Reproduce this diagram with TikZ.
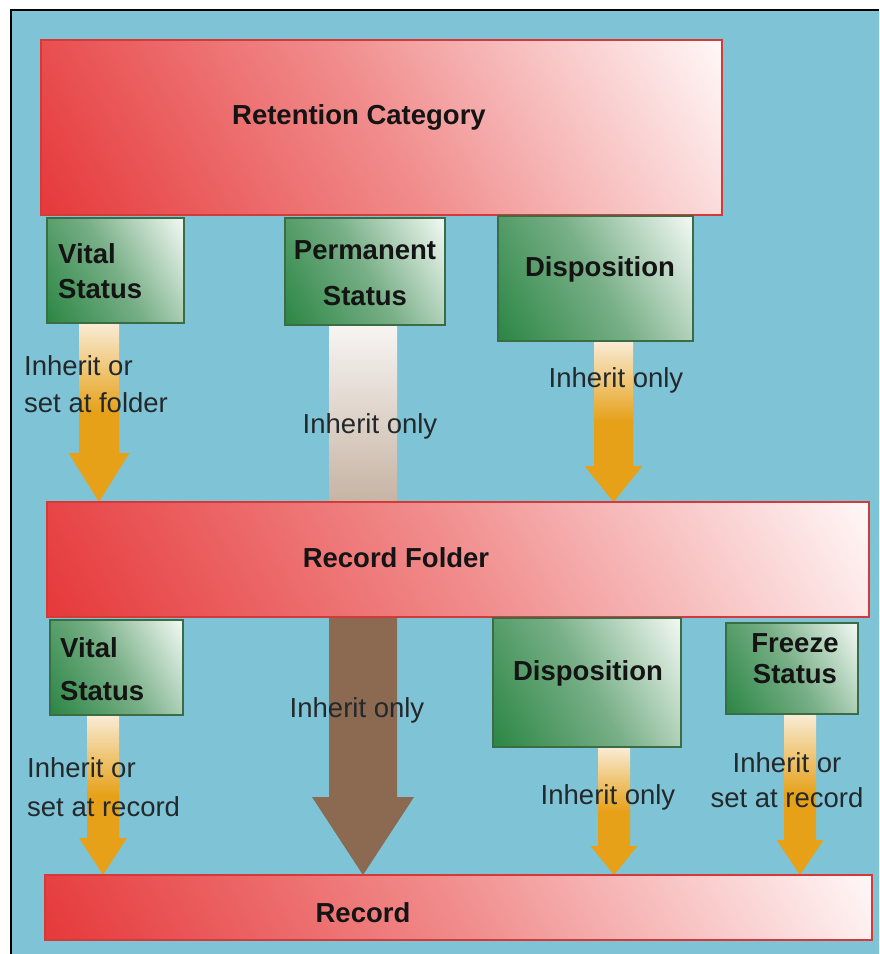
\documentclass[tikz,border=0pt]{standalone}
\usepackage{fontspec}
\setmainfont{Liberation Sans}
\usetikzlibrary{calc}
\definecolor{PageBlue}{HTML}{7FC4D6}
\definecolor{BoxRed}{HTML}{E6393B}
\definecolor{BoxRedMid}{HTML}{F18D8D}
\definecolor{BoxRedTop}{HTML}{FFF7F7}
\definecolor{BoxRedEdge}{HTML}{D33B3B}
\definecolor{BoxGreen}{HTML}{2B8644}
\definecolor{BoxGreenMid}{HTML}{78AF87}
\definecolor{BoxGreenTop}{HTML}{F3F9F4}
\definecolor{BoxGreenEdge}{HTML}{3C6C44}
\definecolor{FlowOrange}{HTML}{E6A119}
\definecolor{FlowPale}{HTML}{F9ECD6}
\definecolor{FlowBrown}{HTML}{8B6A51}
\definecolor{FlowTan}{HTML}{C7B4A4}
\definecolor{FlowWhite}{HTML}{F7F5F3}
\definecolor{InkGrey}{HTML}{23282B}
% fades used with shading angle=120 (corners reach 15.85bp and 84.15bp)
\pgfdeclareverticalshading{redfade}{100bp}{color(0bp)=(BoxRedTop); color(15.85bp)=(BoxRedTop);
 color(50bp)=(BoxRedMid); color(84.15bp)=(BoxRed); color(100bp)=(BoxRed)}
\pgfdeclareverticalshading{greenfade}{100bp}{color(0bp)=(BoxGreenTop); color(15.85bp)=(BoxGreenTop);
 color(50bp)=(BoxGreenMid); color(84.15bp)=(BoxGreen); color(100bp)=(BoxGreen)}
% long arrow, mostly hidden behind the folder between 59bp and 48bp
\pgfdeclareverticalshading{brownfade}{100bp}{color(0bp)=(FlowBrown); color(48.5bp)=(FlowBrown);
 color(59bp)=(FlowTan); color(75bp)=(FlowWhite); color(100bp)=(FlowWhite)}
\pgfdeclarelayer{back}
\pgfsetlayers{back,main}
\tikzset{redbox/.style={draw=BoxRedEdge,line width=1.2pt,inner sep=0pt,outer sep=0pt,
 shade,shading=redfade,shading angle=120},
 greenbox/.style={draw=BoxGreenEdge,line width=1.3pt,inner sep=0pt,outer sep=0pt,
 shade,shading=greenfade,shading angle=120},
 title/.style={font=\fontsize{27.5}{33}\selectfont\bfseries,text=black!92,inner sep=0pt},
 note/.style={font=\fontsize{27.5}{33}\selectfont,text=InkGrey,inner sep=0pt},
 orangeflow/.style={top color=FlowPale,bottom color=FlowOrange,middle color=FlowOrange},
 brownflow/.style={shade,shading=brownfade}}
% block arrow: [style]{x}{shaft half}{head half}{head length}{from}{to}
\newcommand\flowarrow[7][]{%
 \path[#1] let \p1=(#6.south),\p2=(#7.north) in
 (#2pt-#3pt,\y1)--(#2pt+#3pt,\y1)--(#2pt+#3pt,\y2+#5pt)--(#2pt+#4pt,\y2+#5pt)
 --(#2pt,\y2)--(#2pt-#4pt,\y2+#5pt)--(#2pt-#3pt,\y2+#5pt)--cycle;}

\begin{document}
\begin{tikzpicture}[x=1pt,y=-1pt]
\useasboundingbox (0,0) rectangle (879,954);
\begin{pgfonlayer}{back}
\fill[white] (0,0) rectangle (879,954);
\fill[PageBlue] (11,10) rectangle (879,954);
\draw[black,line width=2pt] (11,954)--(11,10)--(879,10);
\end{pgfonlayer}

% category and its settings
\node[redbox,minimum width=681pt,minimum height=175pt] (rc) at (381.5,127.5) {};
\node[greenbox,minimum width=137pt,minimum height=105pt] (vs1) at (115.5,270.5) {};
\node[greenbox,minimum width=160pt,minimum height=107pt] (ps) at (365,271.5) {};
\node[greenbox,minimum width=195pt,minimum height=125pt] (ds1) at (595.5,278.5) {};
% folder and its settings
\node[redbox,minimum width=822pt,minimum height=115pt] (rf) at (458,559.5) {};
\node[greenbox,minimum width=133pt,minimum height=95pt] (vs2) at (116.5,667.5) {};
\node[greenbox,minimum width=188pt,minimum height=129pt] (ds2) at (587,682.5) {};
\node[greenbox,minimum width=132pt,minimum height=91pt] (fs) at (792,668.5) {};
% record
\node[redbox,minimum width=827pt,minimum height=65pt] (rec) at (458.5,907.5) {};

\node[title,anchor=base] at (359,124) {Retention Category};
\node[title,anchor=north west,align=left] at (58,243) {Vital\\[2pt]Status};
\node[title,anchor=north,align=center] at (365,240) {Permanent\\[13pt]Status};
\node[title,anchor=base] at (600,276) {Disposition};
\node[title,anchor=base] at (396,567) {Record Folder};
\node[title,anchor=north west,align=left] at (60,637) {Vital\\[10pt]Status};
\node[title,anchor=base] at (588,680) {Disposition};
\node[title,anchor=north,align=center] at (795,633) {Freeze\\[-2pt]Status};
\node[title,anchor=base] at (363,922) {Record};

\begin{pgfonlayer}{back}
\flowarrow[orangeflow]{99}{20}{30.5}{49}{vs1}{rf}
\flowarrow[brownflow]{363}{34}{51}{78}{ps}{rec}
\flowarrow[orangeflow]{613.5}{19.5}{29}{36}{ds1}{rf}
\flowarrow[orangeflow]{103}{16}{24}{37}{vs2}{rec}
\flowarrow[orangeflow]{614}{16}{23.5}{29}{ds2}{rec}
\flowarrow[orangeflow]{800}{16}{23.5}{35}{fs}{rec}
\end{pgfonlayer}

\node[note,anchor=north west,align=left] at (24,355) {Inherit or\\[4pt]set at folder};
\node[note,anchor=base] at (370,433) {Inherit only};
\node[note,anchor=base] at (616,387) {Inherit only};
\node[note,anchor=north west,align=left] at (27,757) {Inherit or\\[6pt]set at record};
\node[note,anchor=base] at (357,717) {Inherit only};
\node[note,anchor=base] at (608,804) {Inherit only};
\node[note,anchor=north,align=center] at (787,752) {Inherit or\\[2pt]set at record};
\end{tikzpicture}
\end{document}
